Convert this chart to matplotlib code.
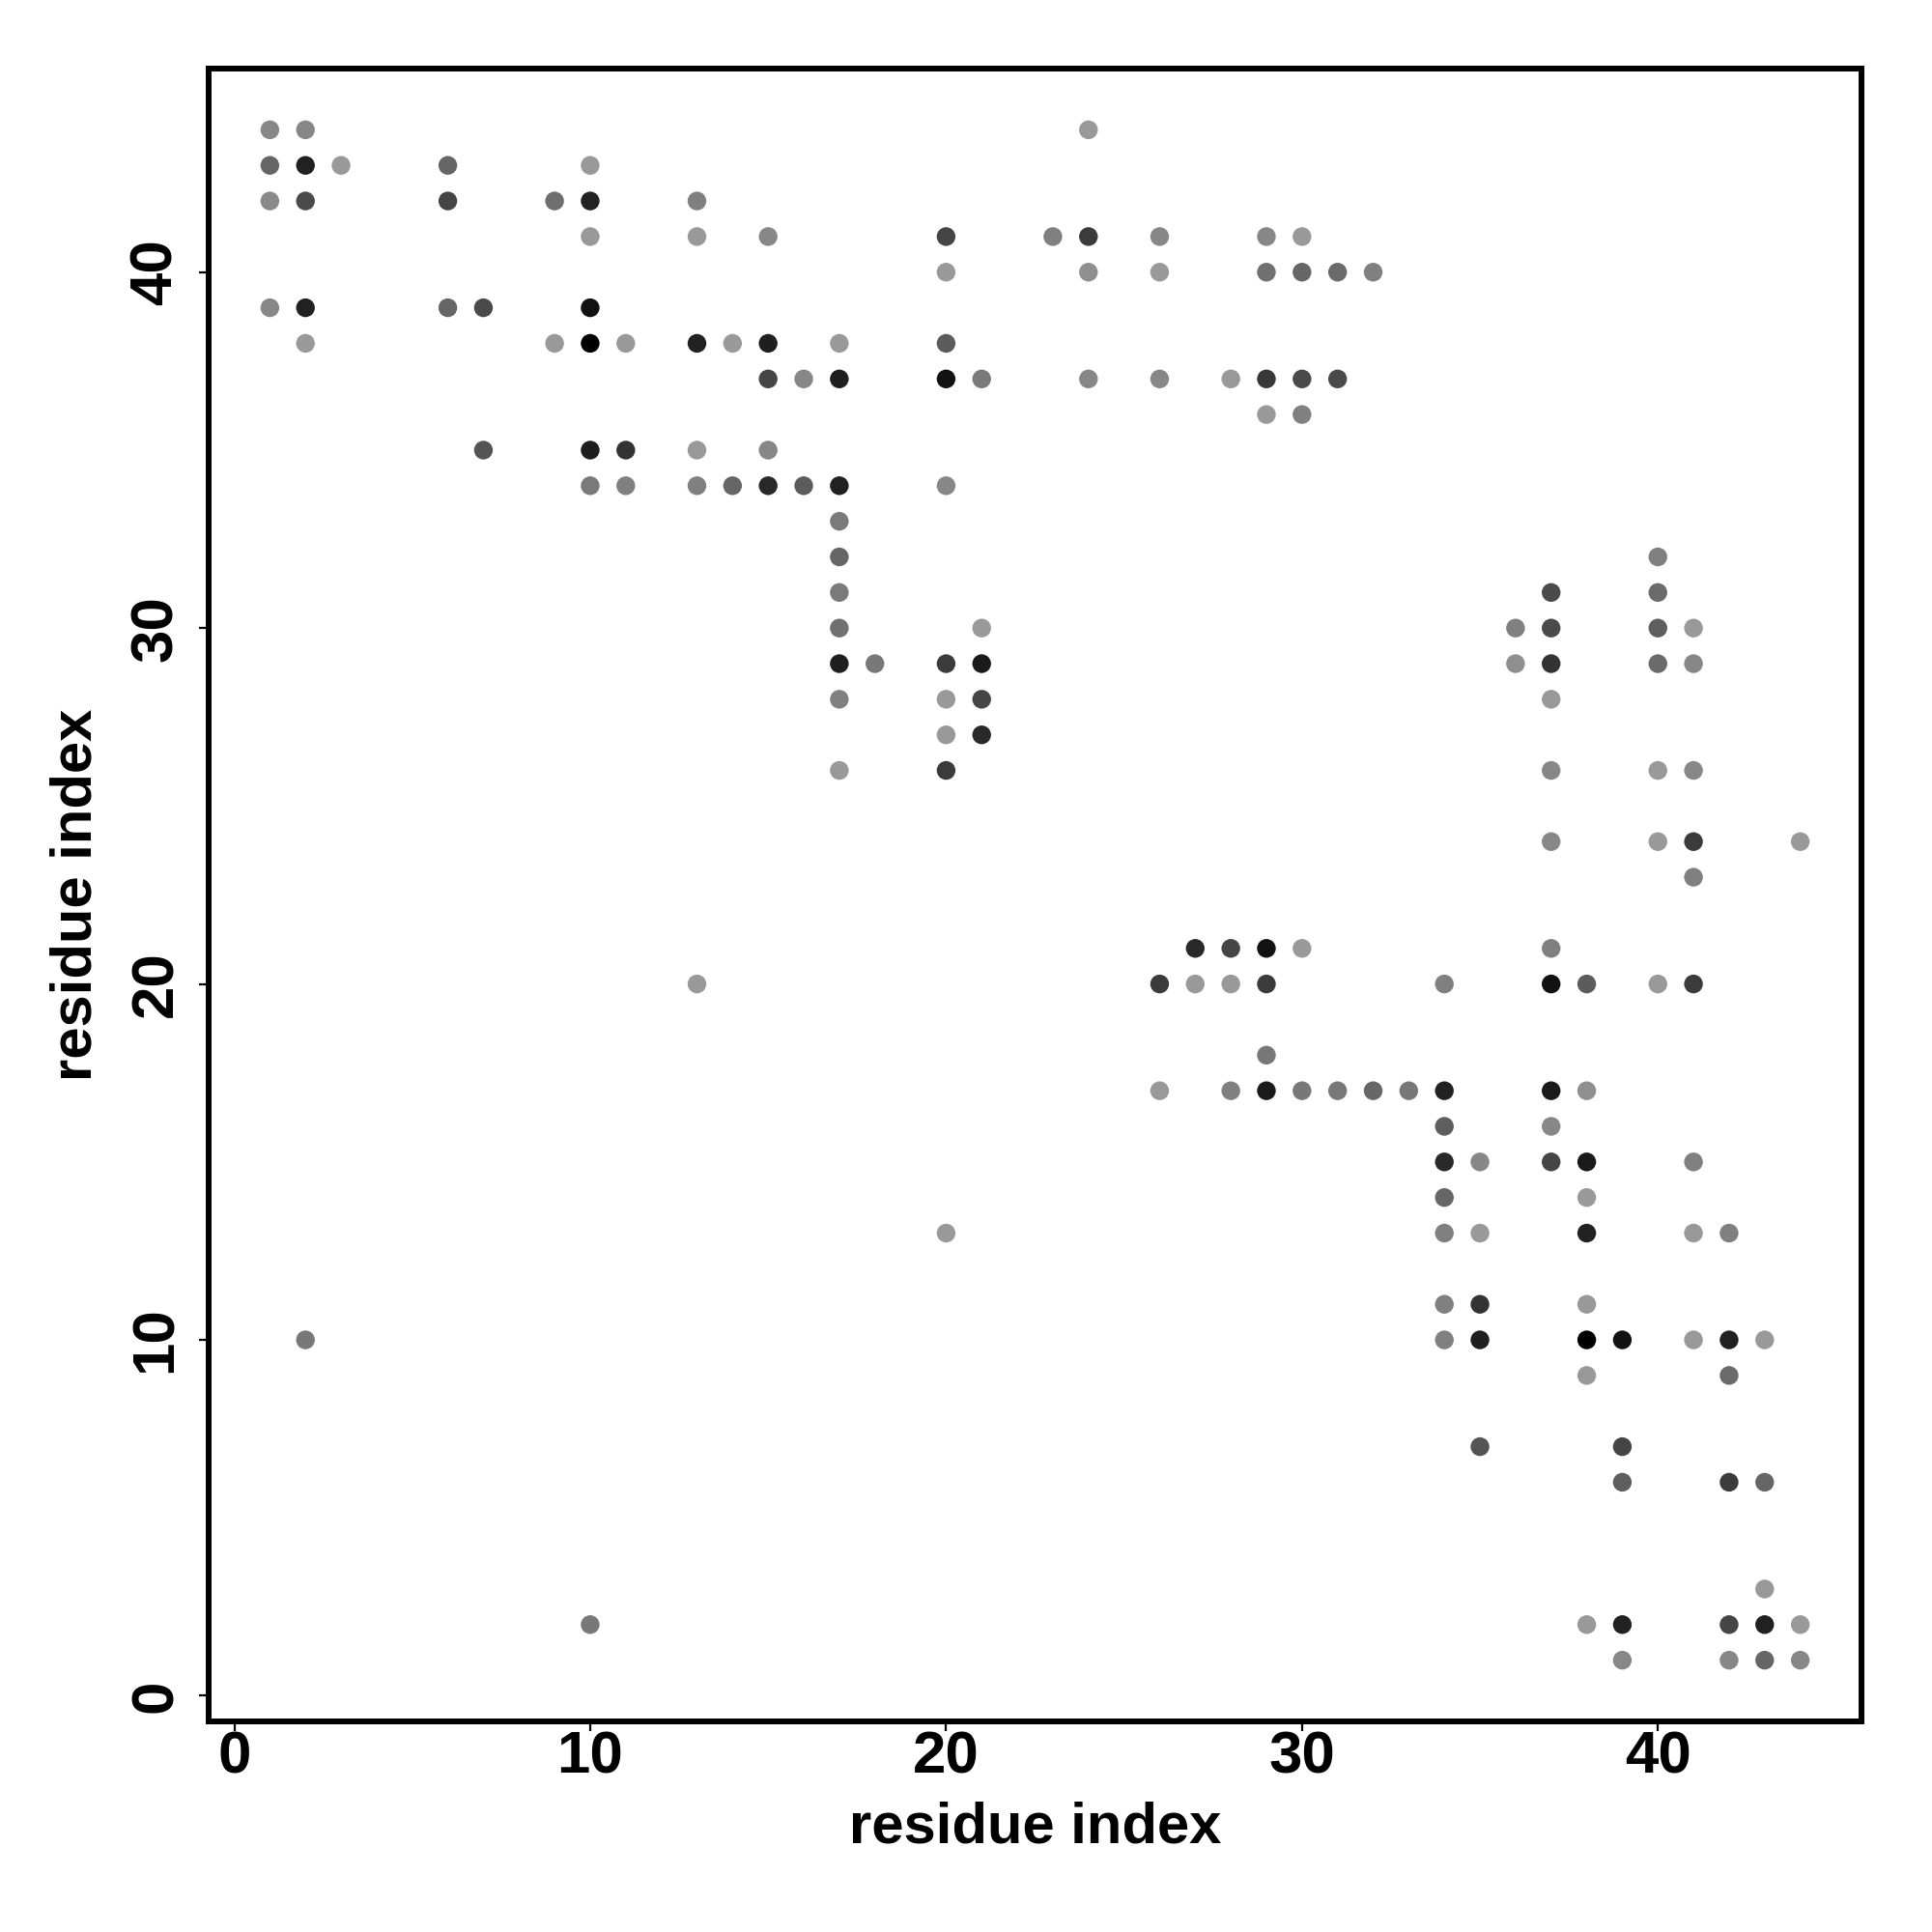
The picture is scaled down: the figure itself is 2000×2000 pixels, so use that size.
import matplotlib
matplotlib.use("Agg")
import matplotlib.pyplot as plt

# contact map: residue i, residue j, grey level of the dot (0 = black)
res_i = [1, 1, 1, 1,
         2, 2, 2, 2, 2, 2,
         3,
         6, 6, 6,
         7, 7,
         9, 9,
         10, 10, 10, 10, 10, 10, 10, 10,
         11, 11, 11,
         13, 13, 13, 13, 13, 13,
         14, 14,
         15, 15, 15, 15, 15,
         16, 16,
         17, 17, 17, 17, 17, 17, 17, 17, 17, 17,
         18,
         20, 20, 20, 20, 20, 20, 20, 20, 20, 20,
         21, 21, 21, 21, 21,
         23,
         24, 24, 24, 24,
         26, 26, 26, 26, 26,
         27, 27,
         28, 28, 28, 28,
         29, 29, 29, 29, 29, 29, 29, 29,
         30, 30, 30, 30, 30, 30,
         31, 31, 31,
         32, 32,
         33,
         34, 34, 34, 34, 34, 34, 34, 34,
         35, 35, 35, 35, 35,
         36, 36,
         37, 37, 37, 37, 37, 37, 37, 37, 37, 37, 37,
         38, 38, 38, 38, 38, 38, 38, 38, 38,
         39, 39, 39, 39, 39,
         40, 40, 40, 40, 40, 40, 40,
         41, 41, 41, 41, 41, 41, 41, 41, 41,
         42, 42, 42, 42, 42, 42,
         43, 43, 43, 43, 43,
         44, 44, 44]

res_j = [44, 43, 42, 39,
         44, 43, 42, 39, 38, 10,
         43,
         43, 42, 39,
         39, 35,
         42, 38,
         43, 42, 41, 39, 38, 35, 34, 2,
         38, 35, 34,
         42, 41, 38, 35, 34, 20,
         38, 34,
         41, 38, 37, 35, 34,
         37, 34,
         38, 37, 34, 33, 32, 31, 30, 29, 28, 26,
         29,
         41, 40, 38, 37, 34, 29, 28, 27, 26, 13,
         37, 30, 29, 28, 27,
         41,
         44, 41, 40, 37,
         41, 40, 37, 20, 17,
         21, 20,
         37, 21, 20, 17,
         41, 40, 37, 36, 21, 20, 18, 17,
         41, 40, 37, 36, 21, 17,
         40, 37, 17,
         40, 17,
         17,
         20, 17, 16, 15, 14, 13, 11, 10,
         15, 13, 11, 10, 7,
         30, 29,
         31, 30, 29, 28, 26, 24, 21, 20, 17, 16, 15,
         20, 17, 15, 14, 13, 11, 10, 9, 2,
         10, 7, 6, 2, 1,
         32, 31, 30, 29, 26, 24, 20,
         30, 29, 26, 24, 23, 20, 15, 13, 10,
         13, 10, 9, 6, 2, 1,
         10, 6, 3, 2, 1,
         24, 2, 1]

grey = [0.53, 0.40, 0.54, 0.53,
        0.53, 0.13, 0.29, 0.13, 0.60, 0.47,
        0.60,
        0.40, 0.27, 0.40,
        0.29, 0.33,
        0.43, 0.60,
        0.60, 0.13, 0.60, 0.07, 0.00, 0.12, 0.48, 0.47,
        0.60, 0.20, 0.50,
        0.50, 0.60, 0.13, 0.60, 0.50, 0.60,
        0.60, 0.40,
        0.53, 0.12, 0.27, 0.53, 0.16,
        0.53, 0.36,
        0.60, 0.12, 0.13, 0.48, 0.40, 0.48, 0.44, 0.12, 0.50, 0.60,
        0.47,
        0.27, 0.60, 0.36, 0.07, 0.53, 0.23, 0.60, 0.60, 0.23, 0.60,
        0.48, 0.60, 0.10, 0.27, 0.16,
        0.50,
        0.60, 0.23, 0.56, 0.53,
        0.53, 0.60, 0.53, 0.23, 0.60,
        0.16, 0.60,
        0.60, 0.27, 0.60, 0.50,
        0.53, 0.44, 0.22, 0.60, 0.07, 0.23, 0.47, 0.10,
        0.60, 0.40, 0.29, 0.50, 0.60, 0.47,
        0.42, 0.29, 0.47,
        0.50, 0.40,
        0.47,
        0.50, 0.13, 0.37, 0.16, 0.40, 0.50, 0.50, 0.50,
        0.53, 0.60, 0.20, 0.12, 0.33,
        0.50, 0.56,
        0.29, 0.29, 0.20, 0.60, 0.53, 0.53, 0.50, 0.07, 0.10, 0.53, 0.27,
        0.36, 0.56, 0.10, 0.60, 0.13, 0.60, 0.00, 0.60, 0.60,
        0.07, 0.27, 0.37, 0.13, 0.53,
        0.50, 0.42, 0.37, 0.42, 0.60, 0.60, 0.60,
        0.60, 0.53, 0.53, 0.23, 0.50, 0.23, 0.50, 0.60, 0.60,
        0.50, 0.13, 0.42, 0.23, 0.27, 0.53,
        0.60, 0.40, 0.60, 0.13, 0.40,
        0.60, 0.60, 0.53]

ticks = [0, 10, 20, 30, 40]

plt.rcParams["font.family"] = ["Liberation Sans", "DejaVu Sans"]
plt.rcParams["font.weight"] = "bold"

fig = plt.figure(figsize=(20, 20), dpi=100)
ax = fig.add_axes([0.108, 0.109, 0.8555, 0.8555])

colors = [str(g) for g in grey]
ax.scatter(res_i, res_j, s=195, c=colors, linewidths=0, zorder=3)

ax.set_xlim(-0.72, 45.72)
ax.set_ylim(-0.72, 45.72)
ax.set_xticks(ticks)
ax.set_yticks(ticks)

for side in ax.spines.values():
    side.set_linewidth(4.3)

ax.tick_params(axis="both", direction="out", length=7, width=1.6,
               labelsize=44.5)
ax.tick_params(axis="x", pad=0)
ax.tick_params(axis="y", pad=11)
for lab in ax.get_yticklabels():
    lab.set_rotation(90)
    lab.set_va("center")
for lab in ax.get_xticklabels() + ax.get_yticklabels():
    lab.set_fontweight("bold")

ax.set_xlabel("residue index", fontsize=43, fontweight="bold", va="center")
ax.set_ylabel("residue index", fontsize=43, fontweight="bold", va="center")
ax.xaxis.set_label_coords(0.5, -0.064)
ax.yaxis.set_label_coords(-0.080, 0.5)

fig.savefig("out.png", dpi=100, facecolor="white")
